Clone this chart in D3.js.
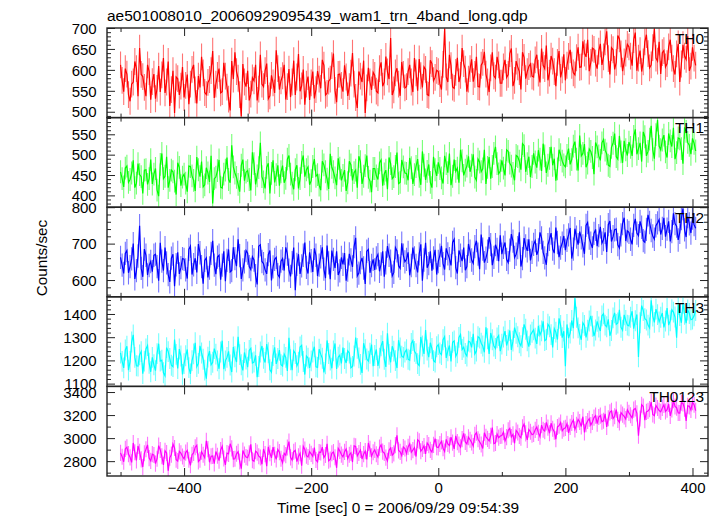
<!DOCTYPE html>
<html><head><meta charset="utf-8">
<script src="https://cdn.jsdelivr.net/npm/d3@7"></script>
<style>
html,body{margin:0;padding:0;background:#fff;}
svg{display:block;font-family:"Liberation Sans",Arial,Helvetica,sans-serif;}
</style></head><body>
<svg id="chart" width="718" height="516"></svg>
<script>
const title = "ae501008010_20060929095439_wam1_trn_4band_long.qdp";
const xLabel = "Time [sec] 0 = 2006/09/29 09:54:39";
const yLabel = "Counts/sec";
// two interleaved sets of 5-s samples: set A starts at -500 s, set B at -497.5 s
const binStartA = -500, binStartB = -497.5, binWidth = 5;
const panelNames = ["TH0", "TH1", "TH2", "TH3", "TH0123"];
const panelColors = ["#ff0000", "#00ff00", "#0000ff", "#00ffff", "#ff00ff"];

const th0 = [612,548,590,525,571,603,652,584,537,596, 572,531,609,588,545,620,553,497,579,561,
 534,589,566,612,520,558,593,541,577,645, 566,603,548,585,530,621,642,580,489,571,
 598,542,574,527,636,560,615,538,569,647, 553,586,529,602,571,540,638,562,517,584,
 569,532,597,556,611,544,578,639,523,590, 548,583,560,640,534,596,571,497,605,552,
 587,545,618,571,595,676,552,604,538,589, 560,612,547,593,626,558,601,539,615,582,
 596,553,698,571,610,556,629,587,615,548, 603,572,631,559,618,590,547,642,580,612,
 568,624,589,651,575,607,553,630,596,614, 583,636,570,611,658,592,621,561,645,600,
 575,632,611,588,654,607,640,672,618,649, 603,662,631,692,589,648,618,674,597,640,
 655,610,689,628,596,667,639,612,698,621, 590,646,615,672,603,638,571,660,625,598,
 654,611];
const th0b = [575,603,541,566,620,537,589,558,612,529, 590,556,547,628,571,514,598,583,540,607,
 563,518,601,552,585,631,546,570,598,533, 587,545,617,559,503,578,596,541,614,560,
 527,581,612,554,566,598,531,587,545,603, 574,612,560,535,622,583,549,601,566,528,
 596,553,578,624,540,573,610,551,589,563, 611,538,592,566,509,585,622,557,571,594,
 549,603,561,632,578,540,593,566,619,557, 596,571,628,550,586,607,541,623,574,599,
 567,613,583,636,559,594,571,652,602,578, 625,589,560,611,643,571,605,586,631,568,
 607,582,639,561,621,596,642,579,608,585, 624,592,651,603,575,633,596,618,582,637,
 611,648,593,629,606,668,631,597,652,616, 645,612,667,627,653,601,682,638,619,661,
 633,672,598,646,619,684,605,653,628,667, 641,607,655,628,589,662,614,633,680,609,
 628];
const th1 = [458,421,472,439,486,430,451,405,463,441, 428,466,398,503,447,419,462,435,480,424,
 452,409,471,437,494,446,421,468,433,380, 445,487,418,462,439,523,455,427,474,436,
 461,412,478,448,529,433,469,405,486,451, 424,473,442,498,430,463,417,481,446,470,
 436,489,451,413,475,440,502,458,425,467, 449,411,484,437,462,496,428,473,444,408,
 466,439,487,453,415,478,446,505,432,470, 454,492,428,471,447,508,438,476,419,463,
 481,443,497,456,425,488,467,512,449,472, 458,501,437,482,465,428,494,471,519,453,
 486,449,508,472,437,495,463,522,478,445, 503,468,489,527,455,491,474,436,512,484,
 470,515,488,532,461,497,526,479,508,452, 519,486,537,502,471,528,495,546,480,512,
 531,497,562,515,483,544,508,571,490,585, 512,548,493,534,566,505,539,478,557,523,
 540,509];
const th1b = [441,467,432,455,419,478,446,462,427,488, 452,413,476,441,495,437,458,402,469,445,
 430,472,448,411,463,483,426,455,497,441, 461,420,452,493,431,470,444,409,488,457,
 439,506,427,468,446,417,479,454,432,474, 458,431,489,452,415,474,441,498,463,426,
 471,447,425,484,458,416,469,443,491,437, 462,431,475,456,419,483,447,498,435,466,
 448,480,424,462,493,441,471,429,487,455, 437,468,451,489,426,474,459,432,495,448,
 466,429,478,503,447,459,431,485,462,496, 474,445,489,458,512,469,441,503,478,460,
 467,512,479,454,498,484,527,458,495,471, 482,511,460,497,474,519,490,465,500,475,
 498,476,521,489,547,503,469,514,493,530, 497,529,511,474,518,552,489,507,534,498,
 518,545,501,529,556,497,538,512,549,521, 536,507,552,520,489,541,515,567,530,501,
 528];
const th2 = [662,618,681,637,700,626,749,609,668,640, 623,671,598,652,689,615,660,583,676,634,
 657,604,693,642,621,675,590,661,633,708, 616,668,641,597,684,626,659,712,603,650,
 674,629,655,588,697,645,617,681,636,662, 608,659,690,627,648,572,671,639,703,618,
 653,687,611,664,630,695,602,657,679,625, 643,598,672,636,716,619,661,589,684,640,
 628,670,644,609,693,652,621,680,632,668, 657,613,689,640,672,598,702,645,626,683,
 651,694,629,672,640,712,618,668,689,637, 679,646,708,630,685,660,718,641,697,652,
 671,703,648,726,662,689,637,715,680,654, 698,669,731,676,642,712,685,744,663,701,
 682,724,659,741,697,716,672,758,701,728, 693,746,711,677,762,719,740,688,755,707,
 731,698,768,722,745,704,779,736,712,757, 725,771,740,706,783,748,731,796,718,754,
 770,742];
const th2b = [641,673,620,658,603,666,632,685,614,651, 668,637,702,626,647,595,671,642,617,659,
 628,684,615,660,699,637,654,607,673,641, 663,601,679,654,622,690,638,667,628,681,
 637,664,612,693,651,628,670,599,657,615, 652,626,671,610,689,643,617,668,635,676,
 622,668,641,690,605,647,681,633,614,662, 674,627,655,692,611,648,633,679,620,657,
 661,624,679,647,668,611,689,639,701,650, 676,640,661,621,698,655,634,679,661,615,
 668,645,687,659,703,634,681,652,627,699, 655,692,671,725,648,679,697,662,684,723,
 690,657,682,707,671,731,659,694,712,676, 708,683,716,661,697,729,674,703,688,721,
 709,743,685,718,733,694,750,715,688,739, 722,701,731,752,706,738,697,724,771,735,
 712,750,729,761,708,739,758,721,749,766, 742,719,761,733,755,710,769,738,774,729,
 752];
const th3 = [1232,1168,1261,1195,1310,1177,1224,1143,1249,1188, 1213,1156,1272,1201,1134,1238,1179,1290,1165,1219,
 1186,1247,1142,1228,1173,1263,1205,1121,1240,1192, 1227,1164,1285,1198,1239,1150,1216,1302,1181,1234,
 1171,1252,1193,1128,1236,1209,1270,1160,1221,1185, 1244,1176,1213,1297,1158,1230,1192,1265,1139,1210,
 1198,1259,1170,1227,1148,1286,1202,1241,1163,1223, 1255,1189,1232,1174,1298,1211,1146,1246,1197,1268,
 1221,1176,1263,1205,1317,1192,1240,1167,1254,1213, 1246,1201,1285,1229,1178,1262,1331,1214,1251,1193,
 1268,1225,1302,1241,1196,1284,1233,1312,1257,1219, 1279,1315,1240,1296,1262,1343,1228,1289,1251,1307,
 1270,1326,1288,1245,1341,1302,1263,1355,1284,1310, 1332,1271,1309,1368,1290,1345,1256,1322,1381,1298,
 1175,1296,1372,1468,1340,1289,1351,1330,1392,1305, 1368,1327,1401,1345,1306,1383,1355,1418,1330,1372,
 1349,1412,1371,1215,1436,1380,1352,1459,1364,1397, 1386,1342,1425,1371,1408,1298,1393,1446,1360,1402,
 1378,1415];
const th3b = [1196,1245,1158,1279,1213,1176,1238,1197,1264,1151, 1181,1229,1197,1147,1255,1208,1173,1226,1249,1140,
 1220,1169,1199,1276,1187,1232,1158,1214,1181,1251, 1198,1236,1162,1213,1180,1258,1193,1225,1157,1206,
 1243,1189,1222,1174,1262,1191,1233,1149,1256,1208, 1182,1227,1155,1203,1241,1177,1258,1195,1219,1168,
 1236,1172,1248,1209,1185,1230,1166,1273,1214,1187, 1208,1241,1168,1219,1252,1183,1274,1206,1231,1175,
 1247,1210,1283,1172,1226,1261,1199,1287,1218,1236, 1205,1273,1239,1186,1301,1228,1245,1276,1199,1259,
 1232,1289,1211,1264,1278,1218,1299,1247,1230,1283, 1256,1228,1302,1274,1235,1293,1318,1262,1297,1240,
 1301,1264,1329,1283,1317,1276,1298,1334,1259,1321, 1296,1349,1327,1285,1356,1311,1337,1290,1351,1326,
 1355,1318,1339,1386,1312,1362,1299,1370,1347,1331, 1344,1392,1352,1377,1329,1405,1361,1343,1396,1352,
 1386,1337,1398,1362,1415,1374,1340,1391,1421,1366, 1404,1370,1352,1418,1387,1441,1362,1399,1417,1375,
 1392];
const th0123 = [2872,2795,2921,2833,2958,2807,2880,2749,2903,2826, 2861,2778,2935,2842,2890,2716,2857,2914,2801,2869,
 2820,2893,2764,2871,2938,2812,2855,2977,2790,2846, 2884,2805,2929,2768,2863,2911,2821,2882,2735,2857,
 2830,2946,2799,2874,2832,2905,2757,2868,2921,2815, 2878,2786,2852,2970,2809,2893,2841,2760,2901,2836,
 2863,2918,2794,2875,2831,2951,2814,2879,2742,2889, 2837,2905,2856,2792,2928,2871,2819,2887,2958,2843,
 2898,2836,2942,2871,2802,2915,2867,3024,2881,2923, 2867,2951,2896,2840,2973,2905,2862,2939,2879,2996,
 2918,2972,2884,2949,3008,2906,2965,2921,3041,2950, 2986,2931,3047,2968,2910,3011,2975,3092,2958,3004,
 3022,2976,3068,3010,2955,3049,3003,3121,2984,3055, 3037,3096,3012,3073,3136,3042,3081,2990,3108,3064,
 3089,3045,3131,3076,3162,3101,3050,3149,3113,3178, 3126,3195,3151,3098,3223,3170,3247,3137,3204,3165,
 3219,3176,3258,3020,3290,3155,3236,3312,3195,3261, 3228,3289,3247,3193,3330,3264,3218,3302,3150,3276,
 3311,3238];
const th0123b = [2838,2906,2861,2789,2877,2932,2815,2868,2941,2802, 2853,2821,2897,2768,2871,2829,2948,2812,2885,2840,
 2874,2812,2856,2921,2797,2882,2830,2904,2843,2779, 2847,2896,2823,2870,2951,2818,2864,2797,2892,2835,
 2869,2808,2887,2843,2773,2861,2924,2829,2856,2901, 2821,2867,2918,2833,2882,2796,2869,2928,2848,2882,
 2842,2810,2879,2922,2853,2803,2868,2834,2911,2857, 2881,2822,2872,2933,2845,2897,2861,2815,2906,2877,
 2860,2917,2883,2831,2894,2852,2939,2893,2847,2910, 2924,2877,2918,2985,2886,2932,2957,2898,2941,2922,
 2949,2912,2989,2936,2961,3019,2943,2991,2967,3008, 2962,3028,2990,2944,3046,2993,3021,2952,3035,3018,
 3051,3009,3084,3032,3066,3018,3094,3041,3075,3029, 3072,3045,3113,3061,3091,3129,3056,3097,3135,3082,
 3124,3098,3157,3115,3140,3186,3121,3168,3140,3195, 3183,3142,3210,3172,3236,3190,3158,3221,3189,3246,
 3198,3247,3215,3170,3274,3228,3252,3206,3283,3239, 3262,3231,3296,3248,3275,3219,3307,3256,3281,3244,
 3290];
const seriesA = [th0, th1, th2, th3, th0123];
const seriesB = [th0b, th1b, th2b, th3b, th0123b];
const seriesErrors = [32, 28, 32, 45, 70];

const yDomains = [[486, 700], [371, 591], [554, 800], [1088, 1474], [2671, 3449]];
const yMajorTicks = [[500, 550, 600, 650, 700], [400, 450, 500, 550], [600, 700, 800], [1100, 1200, 1300, 1400], [2800, 3000, 3200, 3400]];
const yMinorSteps = [10, 10, 20, 20, 100];
const xMajorTicks = [-400, -200, 0, 200, 400];
const xMinorTicks = [-500, -300, -100, 100, 300];
const xDomain = [-521.3, 424.4];

// layout
const L = 107, R = 708, T = 28, PH = 89.6;
const FONT = 15;
const svg = d3.select("#chart");
const x = d3.scaleLinear().domain(xDomain).range([L, R]);
const fmt = d3.format("d");

svg.append("text").attr("x", L).attr("y", 20.5).attr("font-size", 15.5).attr("fill", "#000").text(title);
svg.append("text").attr("transform", "translate(46.5,258) rotate(-90)").attr("text-anchor", "middle")
  .attr("font-size", 15.3).attr("fill", "#000").text(yLabel);
svg.append("text").attr("x", 398).attr("y", 512.5).attr("text-anchor", "middle").attr("font-size", 15.4)
  .attr("fill", "#000").text(xLabel);

function styleAxis(g) {
  g.select(".domain").remove();
  g.selectAll(".tick line").attr("stroke", "#222").attr("stroke-width", 1);
  g.selectAll("text").attr("fill", "#000").attr("font-size", FONT);
  g.attr("font-family", null).attr("font-size", null);
}

seriesA.forEach((valsA, p) => {
  const y0 = T + p * PH, y1 = y0 + PH;
  const y = d3.scaleLinear().domain(yDomains[p]).range([y1, y0]);
  const col = panelColors[p];
  const err = seriesErrors[p];
  const pts = d3.sort([
    ...valsA.map((v, i) => ({ t: binStartA + i * binWidth, v })),
    ...seriesB[p].map((v, i) => ({ t: binStartB + i * binWidth, v }))
  ], d => d.t);

  const clipId = "clip" + p;
  svg.append("clipPath").attr("id", clipId).append("rect")
    .attr("x", L).attr("y", y0).attr("width", R - L).attr("height", PH);
  const g = svg.append("g").attr("clip-path", `url(#${clipId})`);
  g.selectAll("line.err").data(pts).join("line").attr("class", "err")
    .attr("x1", d => x(d.t)).attr("x2", d => x(d.t))
    .attr("y1", d => y(d.v - err)).attr("y2", d => y(d.v + err))
    .attr("stroke", col).attr("stroke-opacity", 0.55).attr("stroke-width", 1.1);
  g.append("path").datum(pts)
    .attr("d", d3.line().x(d => x(d.t)).y(d => y(d.v)))
    .attr("fill", "none").attr("stroke", col).attr("stroke-width", 1.2);

  const minor = d3.range(Math.ceil(yDomains[p][0] / yMinorSteps[p]) * yMinorSteps[p], yDomains[p][1] + 0.001, yMinorSteps[p])
    .filter(v => !yMajorTicks[p].includes(v));

  svg.append("g").attr("transform", `translate(${L},0)`)
    .call(d3.axisLeft(y).tickValues(yMajorTicks[p]).tickSize(-8).tickPadding(10.3).tickFormat(fmt))
    .call(styleAxis).selectAll("text").attr("dy", "0.35em");
  svg.append("g").attr("transform", `translate(${L},0)`)
    .call(d3.axisLeft(y).tickValues(minor).tickSize(-4).tickFormat(""))
    .call(styleAxis);
  svg.append("g").attr("transform", `translate(${R},0)`)
    .call(d3.axisRight(y).tickValues(yMajorTicks[p]).tickSize(-8).tickFormat(""))
    .call(styleAxis);
  svg.append("g").attr("transform", `translate(${R},0)`)
    .call(d3.axisRight(y).tickValues(minor).tickSize(-4).tickFormat(""))
    .call(styleAxis);
  svg.append("g").attr("transform", `translate(0,${y0})`)
    .call(d3.axisTop(x).tickValues(xMajorTicks).tickSize(-8).tickFormat(""))
    .call(styleAxis);
  svg.append("g").attr("transform", `translate(0,${y0})`)
    .call(d3.axisTop(x).tickValues(xMinorTicks).tickSize(-4).tickFormat(""))
    .call(styleAxis);
  const last = p === seriesA.length - 1;
  const bx = d3.axisBottom(x).tickValues(xMajorTicks).tickSize(-8).tickPadding(6).tickFormat(last ? fmt : "");
  svg.append("g").attr("transform", `translate(0,${y1})`).call(bx).call(styleAxis);
  svg.append("g").attr("transform", `translate(0,${y1})`)
    .call(d3.axisBottom(x).tickValues(xMinorTicks).tickSize(-4).tickFormat(""))
    .call(styleAxis);

  svg.append("rect").attr("x", L).attr("y", y0).attr("width", R - L).attr("height", PH)
    .attr("fill", "none").attr("stroke", "#222").attr("stroke-width", 1.4);

  svg.append("text").attr("x", 704).attr("y", y0 + 15.7).attr("text-anchor", "end")
    .attr("font-size", 15.4).attr("fill", "#000").text(panelNames[p]);
});
</script>
</body></html>
